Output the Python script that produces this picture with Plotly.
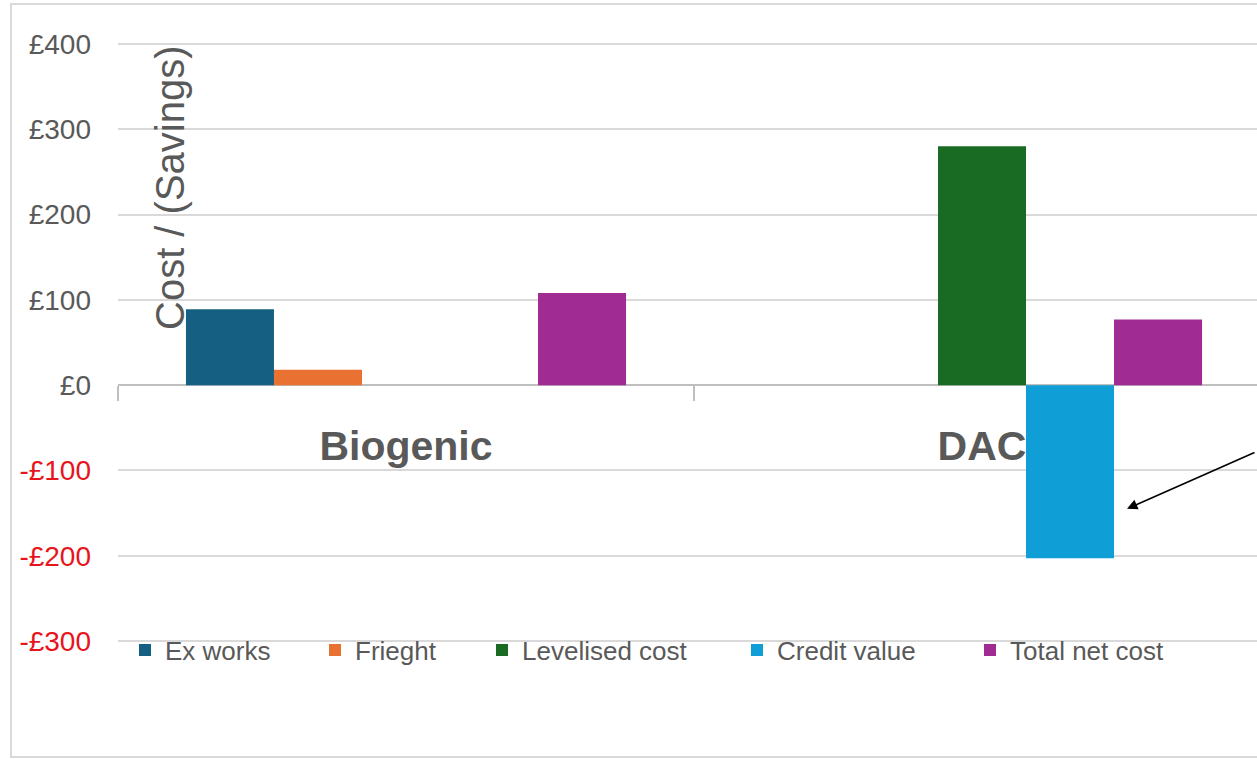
import plotly.graph_objects as go

categories = ["Biogenic", "DAC"]
series_names = ["Ex works", "Frieght", "Levelised cost", "Credit value", "Total net cost"]
ex_works = [89, None]
frieght = [18, None]
levelised_cost = [None, 280]
credit_value = [None, -203]
total_net_cost = [108, 77]
series_values = [ex_works, frieght, levelised_cost, credit_value, total_net_cost]
colors = ["#156082", "#E97132", "#196B24", "#0F9ED5", "#A02B93"]

tick_vals = [-300, -200, -100, 0, 100, 200, 300, 400]
tick_text = ['<span style="color:#E8141B">-£300</span>',
             '<span style="color:#E8141B">-£200</span>',
             '<span style="color:#E8141B">-£100</span>',
             "£0", "£100", "£200", "£300", "£400"]

W, H = 1257, 759
ML, MR, MT, MB = 118, 0, 42, 116
PW = W - ML - MR
PH = H - MT - MB
# keep 597 px for 700 units; pad range so edge gridlines are drawn
scale = 597 / 700
pad = (PH / scale - 700) / 2
y_lo, y_hi = -300 - pad, 400 + pad

def px_x(p):
    return (p - ML) / PW

def px_y(p):
    return (H - MB - p) / PH

fig = go.Figure()
legend_centers = [147, 337, 504, 759, 992]
for i, (name, vals, col) in enumerate(zip(series_names, series_values, colors)):
    lg = "legend" if i == 0 else f"legend{i+1}"
    fig.add_trace(go.Bar(x=categories, y=vals, name=name, marker=dict(color=col, line=dict(width=0)),
                         legend=lg))

grey = "#595959"
legend_common = dict(orientation="h", yanchor="middle", xanchor="left",
                     font=dict(family="Liberation Sans, Arial", size=26, color=grey),
                     bgcolor="rgba(0,0,0,0)", borderwidth=0)
layout_legends = {}
for i, c in enumerate(legend_centers):
    key = "legend" if i == 0 else f"legend{i+1}"
    layout_legends[key] = dict(legend_common, x=px_x(c - 22), y=px_y(650))

fig.update_layout(
    width=W, height=H, autosize=False,
    margin=dict(l=ML, r=MR, t=MT, b=MB, pad=0),
    paper_bgcolor="white", plot_bgcolor="white",
    barmode="group", bargap=0.236, bargroupgap=0,
    showlegend=True,
    **layout_legends,
    xaxis=dict(type="category", range=[-0.5, 1.4774], anchor="free",
               position=(0 - y_lo) / (y_hi - y_lo),
               showline=True, linecolor="#BFBFBF", linewidth=1.5,
               ticks="outside", tickson="boundaries", ticklen=15, tickcolor="#BFBFBF", tickwidth=1.5,
               tickfont=dict(family="Liberation Sans, Arial", size=41, color=grey, weight="bold"),
               ticklabelstandoff=25,
               showgrid=False, layer="below traces", fixedrange=True),
    yaxis=dict(range=[y_lo, y_hi], tickvals=tick_vals, ticktext=tick_text,
               showgrid=True, gridcolor="#D9D9D9", gridwidth=1.5,
               zeroline=False, showline=False, ticks="",
               tickfont=dict(family="Liberation Sans, Arial", size=28, color=grey),
               ticklabelstandoff=26, fixedrange=True),
    annotations=[
        dict(text="Cost / (Savings)", textangle=-90, xref="paper", yref="paper",
             x=px_x(170), y=px_y(188), xanchor="center", yanchor="middle", showarrow=False,
             font=dict(family="Liberation Sans, Arial", size=40, color=grey)),
        dict(text="", x=1.2517, y=-145, xref="x", yref="y", showarrow=True,
             ax=129, ay=-57, axref="pixel", ayref="pixel", arrowhead=2, arrowsize=1.3,
             arrowwidth=1.6, arrowcolor="black"),
    ],
    shapes=[
        dict(type="rect", xref="paper", yref="paper", x0=px_x(11), x1=px_x(1300),
             y0=px_y(757), y1=px_y(4), line=dict(color="#D9D9D9", width=2), fillcolor="rgba(0,0,0,0)",
             layer="below"),
    ],
)

fig.write_html("out.html", config={"displayModeBar": False})
